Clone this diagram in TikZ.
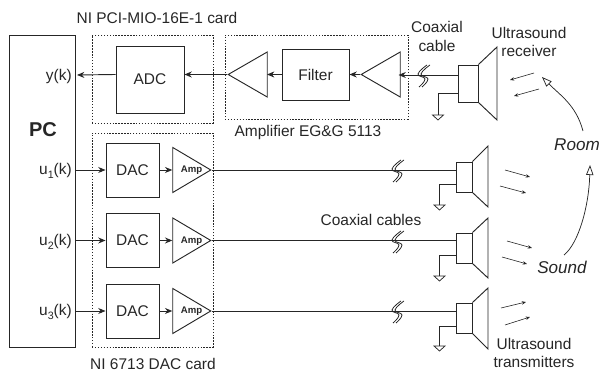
\documentclass[tikz,border=0pt]{standalone}
\usepackage{fontspec}
\setmainfont{Liberation Sans}
\usetikzlibrary{arrows.meta,shapes.geometric}

\tikzset{
    wire/.style={draw=black!85, line width=0.7pt},
    flow/.style={wire, -{Stealth[length=5.5pt,width=4.5pt]}},
    soundarrow/.style={draw=black!85, line width=0.45pt, -{Stealth[length=3.2pt,width=2.6pt]}},
    roomarrow/.style={draw=black!85, line width=0.55pt, -{Triangle[open,fill=white,length=7.5pt,width=5.5pt]}},
    blockbox/.style 2 args={rectangle, draw=black!85, line width=0.7pt, inner sep=0pt,
        minimum width=#1*0.75pt, minimum height=#2*0.75pt},
    cardbox/.style 2 args={blockbox={#1}{#2}, line width=0.55pt, dash pattern=on 1.1pt off 1.1pt},
    ampleft/.style={isosceles triangle, isosceles triangle stretches, shape border rotate=180,
        draw=black!85, line width=0.7pt, inner sep=0pt, anchor=apex,
        minimum width=45*0.75pt, minimum height=39*0.75pt},
    ampright/.style={ampleft, shape border rotate=0},
    lbl/.style={text=black!85, font=\fontsize{11.6pt}{13.8pt}\selectfont, align=center, inner sep=0pt},
    amplbl/.style={lbl, font=\bfseries\fontsize{7.2pt}{8pt}\selectfont},
    roomlbl/.style={lbl, font=\itshape\fontsize{12.8pt}{14pt}\selectfont},
    ground/.pic={\draw[wire, line width=0.55pt] (-5.5,0) -- (5.5,0) -- (0,5) -- cycle;},
    cablebreak/.pic={
        \draw[wire, line width=0.6pt] plot[smooth, tension=0.8] coordinates {(4,-10) (-5,-1) (2,4) (-4,12)};
        \draw[wire, line width=0.6pt] plot[smooth, tension=0.8] coordinates {(7,-10) (-2,-1) (5,4) (-1,12)};
    },
}

\begin{document}
\begin{tikzpicture}[x=0.75pt, y=-0.75pt]
    \useasboundingbox (0,0) rectangle (615,373);

    % cards and computer
    \node[blockbox={66}{312}] (pc) at (42,191) {};
    \node[cardbox={121}{88}] (adccard) at (152.5,79) {};
    \node[cardbox={121}{214}] (daccard) at (152.5,240) {};
    \node[cardbox={183}{84}] (ampcard) at (316.5,77) {};

    % receiving chain
    \node[blockbox={68}{67}, lbl] (adc) at (150,79.5) {ADC};
    \node[blockbox={67}{51}, lbl] (filter) at (315.5,74.5) {Filter};
    \node[ampleft] (rxamp2) at (227,74.5) {};
    \node[ampleft] (rxamp1) at (360,74.5) {};
    \node[blockbox={20}{37}] (rxbox) at (468,83.5) {};
    \coordinate (rxin) at (458,75);
    \coordinate (rxout) at (77,75);
    \coordinate (rxtap) at (458,93);
    \coordinate (rxgnd) at (438,115);
    \coordinate (rxgndbend) at (438,93);
    \coordinate (rxcone1) at (497,47);
    \coordinate (rxcone2) at (497,120);
    \draw[wire] (rxbox.north east) -- (rxcone1) -- (rxcone2) -- (rxbox.south east);
    \draw[wire] (rxtap) -- (rxgndbend) -- (rxgnd);
    \pic at (rxgnd) {ground};
    \draw[flow] (rxin) -- (398.5,75);
    \pic at (423,75) {cablebreak};
    \draw[flow] (rxamp1.apex) -- (rxamp1.apex -| filter.east);
    \draw[flow] (filter.west) -- (267,74.5);
    \draw[flow] (rxamp2.apex) -- (rxamp2.apex -| adc.east);
    \draw[flow] (rxamp2.apex -| adc.west) -- (rxout);

    % transmitting chains
    \node[blockbox={53}{54}, lbl] (dac1) at (132.5,170) {DAC};
    \node[blockbox={53}{54}, lbl] (dac2) at (132.5,240.5) {DAC};
    \node[blockbox={53}{54}, lbl] (dac3) at (132.5,311) {DAC};
    \node[ampright, minimum height=38*0.75pt] (amp1) at (212,170) {};
    \node[ampright, minimum height=38*0.75pt] (amp2) at (212,240.5) {};
    \node[ampright, minimum height=38*0.75pt] (amp3) at (212,311) {};
    \node[amplbl] (amptext1) at (191.5,170.5) {Amp};
    \node[amplbl] (amptext2) at (191.5,241) {Amp};
    \node[amplbl] (amptext3) at (191.5,311.5) {Amp};

    \node[blockbox={16}{30}] (txbox1) at (464,177) {};
    \node[blockbox={16}{30}] (txbox2) at (464,248) {};
    \node[blockbox={16}{30}] (txbox3) at (464,318) {};

    \draw[flow] (pc.east |- dac1.west) -- (dac1.west);
    \draw[flow] (pc.east |- dac2.west) -- (dac2.west);
    \draw[flow] (pc.east |- dac3.west) -- (dac3.west);
    \draw[flow] (dac1.east) -- (dac1.east -| amp1.left corner);
    \draw[flow] (dac2.east) -- (dac2.east -| amp2.left corner);
    \draw[flow] (dac3.east) -- (dac3.east -| amp3.left corner);
    \draw[wire] (amp1.apex) -- (amp1.apex -| txbox1.west);
    \draw[wire] (amp2.apex) -- (amp2.apex -| txbox2.west);
    \draw[wire] (amp3.apex) -- (amp3.apex -| txbox3.west);
    \pic at (397,170) {cablebreak};
    \pic at (397,241) {cablebreak};
    \pic at (397,311) {cablebreak};

    \coordinate (cone1a) at (488,146);
    \coordinate (cone1b) at (488,207);
    \coordinate (cone2a) at (488,218);
    \coordinate (cone2b) at (488,278);
    \coordinate (cone3a) at (488,288);
    \coordinate (cone3b) at (488,349);
    \draw[wire] (txbox1.north east) -- (cone1a) -- (cone1b) -- (txbox1.south east);
    \draw[wire] (txbox2.north east) -- (cone2a) -- (cone2b) -- (txbox2.south east);
    \draw[wire] (txbox3.north east) -- (cone3a) -- (cone3b) -- (txbox3.south east);

    \coordinate (gnd1) at (439.5,205);
    \coordinate (gnd2) at (439.5,276);
    \coordinate (gnd3) at (439.5,346);
    \draw[wire] (txbox1.west |- 0,184.5) -| (gnd1);
    \draw[wire] (txbox2.west |- 0,255.5) -| (gnd2);
    \draw[wire] (txbox3.west |- 0,326) -| (gnd3);
    \pic at (gnd1) {ground};
    \pic at (gnd2) {ground};
    \pic at (gnd3) {ground};

    % sound
    \coordinate (s1a) at (534,73); \coordinate (s1b) at (510,80);
    \coordinate (s2a) at (539,89); \coordinate (s2b) at (514,96);
    \coordinate (s3a) at (505,170); \coordinate (s3b) at (530,177);
    \coordinate (s4a) at (500,186); \coordinate (s4b) at (526,193);
    \coordinate (s5a) at (507,241); \coordinate (s5b) at (532,248);
    \coordinate (s6a) at (502,257); \coordinate (s6b) at (527,264);
    \coordinate (s7a) at (501,308); \coordinate (s7b) at (526,302);
    \coordinate (s8a) at (505,325); \coordinate (s8b) at (530,317);
    \draw[soundarrow] (s1a) -- (s1b);
    \draw[soundarrow] (s2a) -- (s2b);
    \draw[soundarrow] (s3a) -- (s3b);
    \draw[soundarrow] (s4a) -- (s4b);
    \draw[soundarrow] (s5a) -- (s5b);
    \draw[soundarrow] (s6a) -- (s6b);
    \draw[soundarrow] (s7a) -- (s7b);
    \draw[soundarrow] (s8a) -- (s8b);

    % texts
    \node[lbl] (adccardtext) at (157,18) {NI PCI-MIO-16E-1 card};
    \node[lbl] (ampcardtext) at (308,132.5) {Amplifier EG\&G 5113};
    \node[lbl] (daccardtext) at (153,364) {NI 6713 DAC card};
    \node[lbl, font=\bfseries\fontsize{15pt}{16pt}\selectfont] (pctext) at (43,130) {PC};
    \node[lbl, anchor=east] (ylabel) at (72,77) {y(k)};
    \node[lbl, anchor=east] (u1label) at (72,171) {u\raisebox{-3pt}{\footnotesize 1}(k)};
    \node[lbl, anchor=east] (u2label) at (72,242) {u\raisebox{-3pt}{\footnotesize 2}(k)};
    \node[lbl, anchor=east] (u3label) at (72,312) {u\raisebox{-3pt}{\footnotesize 3}(k)};
    \node[lbl] (coaxtext) at (437,36.5) {Coaxial\\cable};
    \node[lbl] (rxtext) at (529,42) {Ultrasound\\receiver};
    \node[lbl] (coaxstext) at (371,220) {Coaxial cables};
    \node[lbl] (txtext) at (534,353) {Ultrasound\\transmitters};
    \node[roomlbl] (roomtext) at (577,145) {Room};
    \node[roomlbl] (soundtext) at (562,267) {Sound};

    \draw[roomarrow] (583,131) to[out=105, in=-45] (542,77);
    \draw[roomarrow] (564,255) .. controls (579,243) and (589,205) .. (590,165);
\end{tikzpicture}
\end{document}
